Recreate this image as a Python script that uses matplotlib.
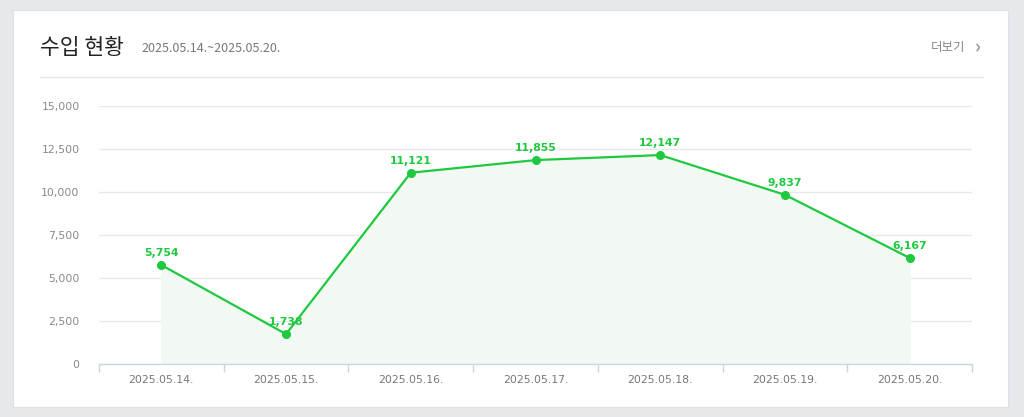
import matplotlib
matplotlib.use('Agg')
import matplotlib.pyplot as plt
from matplotlib.patches import Rectangle
from matplotlib.lines import Line2D
from matplotlib.ticker import FuncFormatter

plt.rcParams['font.family'] = ['Noto Sans CJK KR', 'DejaVu Sans']

# data
dates = ['2025.05.14.', '2025.05.15.', '2025.05.16.', '2025.05.17.',
         '2025.05.18.', '2025.05.19.', '2025.05.20.']
income = [5754, 1738, 11121, 11855, 12147, 9837, 6167]
y_ticks = [0, 2500, 5000, 7500, 10000, 12500, 15000]

title = '수입 현황'
period = '2025.05.14.~2025.05.20.'
more = '더보기'

green = '#1fc93f'
W, H = 1024, 417

fig = plt.figure(figsize=(W / 100, H / 100), dpi=100)
fig.patch.set_facecolor('#e6e9ec')

# white card, behind everything
fig.patches.append(Rectangle((13 / W, 1 - 407 / H), 995 / W, 397 / H,
                             transform=fig.transFigure, facecolor='white',
                             edgecolor='#dde1e5', linewidth=0.8, zorder=-10))
# header
fig.text(40 / W, 1 - 48 / H, title, fontsize=15.5, color='#222222', va='center',
         fontweight='medium', family=['Noto Sans CJK KR', 'DejaVu Sans'])
fig.text(141 / W, 1 - 48 / H, period, fontsize=9, color='#777777', va='center',
         family=['Noto Sans CJK KR', 'DejaVu Sans'])
fig.text(965 / W, 1 - 48 / H, more, fontsize=9, color='#888888', va='center', ha='right',
         family=['Noto Sans CJK KR', 'DejaVu Sans'])
fig.text(981 / W, 1 - 48 / H, '›', fontsize=13, color='#999999', va='center', ha='right',
         fontweight='bold')
fig.lines.append(Line2D([40 / W, 983 / W], [1 - 77 / H, 1 - 77 / H],
                        transform=fig.transFigure, color='#e6e8eb', linewidth=1, zorder=-5))

ax = fig.add_axes([99 / W, 1 - 364 / H, 873 / W, 258 / H])
ax.set_zorder(5)
ax.set_facecolor('none')
x = list(range(len(dates)))

ax.fill_between(x, income, 0, color='#f2f9f2', zorder=1)
ax.plot(x, income, color=green, linewidth=1.6, marker='o', markersize=5.5, zorder=3)
for xi, v in zip(x, income):
    ax.annotate(f'{v:,}', (xi, v), xytext=(0, 5), textcoords='offset points',
                ha='center', va='bottom', fontsize=7.8, fontweight='bold',
                color=green, family='DejaVu Sans', zorder=4)

ax.set_xlim(-0.5, len(dates) - 0.5)
ax.set_ylim(0, 15000)
ax.set_yticks(y_ticks)
ax.yaxis.set_major_formatter(FuncFormatter(lambda v, p: f'{int(v):,}'))
ax.grid(axis='y', color='#e6e8eb', linewidth=1, zorder=0)
ax.set_axisbelow(True)

ax.set_xticks(x)
ax.set_xticklabels(dates)
ax.set_xticks([i - 0.5 for i in range(len(dates) + 1)], minor=True)
ax.tick_params(axis='x', which='major', length=0, pad=8, labelsize=7.8, labelcolor='#777777')
ax.tick_params(axis='x', which='minor', length=6, color='#ccd6e0', width=1)
ax.tick_params(axis='y', length=0, pad=14, labelsize=7.8, labelcolor='#888888')
for lab in ax.get_xticklabels() + ax.get_yticklabels():
    lab.set_family('DejaVu Sans')

for s in ['top', 'right', 'left']:
    ax.spines[s].set_visible(False)
ax.spines['bottom'].set_color('#ccd6e0')
ax.spines['bottom'].set_linewidth(1)

fig.savefig('out.png', dpi=100, facecolor=fig.get_facecolor())
